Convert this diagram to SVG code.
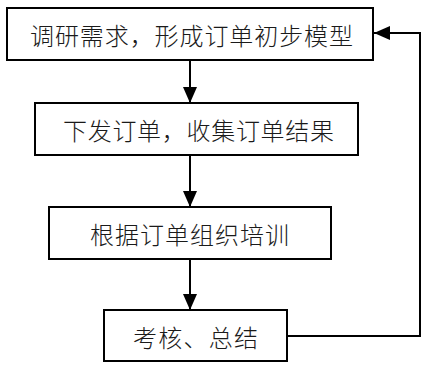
<svg xmlns="http://www.w3.org/2000/svg" width="424" height="365" viewBox="0 0 424 365">
<style>
.box{fill:#fff;stroke:#000;stroke-width:2}
.lbl{font-family:"Noto Sans CJK SC","Noto Sans CJK JP",sans-serif;font-size:24px;font-weight:300;fill:#1a1a1a;dominant-baseline:central}
.con{fill:none;stroke:#000;stroke-width:2}
</style>
<defs>
<marker id="ah" markerUnits="userSpaceOnUse" markerWidth="16" markerHeight="16" viewBox="0 0 16 16" refX="16" refY="8" orient="auto">
<path d="M0,1 L16,8 L0,15 Z" fill="#000"/>
</marker>
</defs>
<rect width="424" height="365" fill="#fff"/>
<g id="connectors">
<line class="con" x1="190" y1="60" x2="190" y2="103" marker-end="url(#ah)"/>
<line class="con" x1="190" y1="155" x2="190" y2="207" marker-end="url(#ah)"/>
<line class="con" x1="190" y1="259" x2="190" y2="310" marker-end="url(#ah)"/>
<polyline class="con" points="287,336 420,336 420,33 374,33" marker-end="url(#ah)"/>
</g>
<g id="n1">
<rect class="box" x="7" y="8" width="366" height="52"/>
<text class="lbl" x="30" y="34" textLength="323" lengthAdjust="spacing">调研需求，形成订单初步模型</text>
</g>
<g id="n2">
<rect class="box" x="35" y="103" width="323" height="52"/>
<text class="lbl" x="63" y="129" textLength="271" lengthAdjust="spacing">下发订单，收集订单结果</text>
</g>
<g id="n3">
<rect class="box" x="49" y="207" width="282" height="52"/>
<text class="lbl" x="90" y="233" textLength="199" lengthAdjust="spacing">根据订单组织培训</text>
</g>
<g id="n4">
<rect class="box" x="104" y="310" width="183" height="51"/>
<text class="lbl" x="133" y="336" textLength="125" lengthAdjust="spacing">考核、总结</text>
</g>
</svg>
